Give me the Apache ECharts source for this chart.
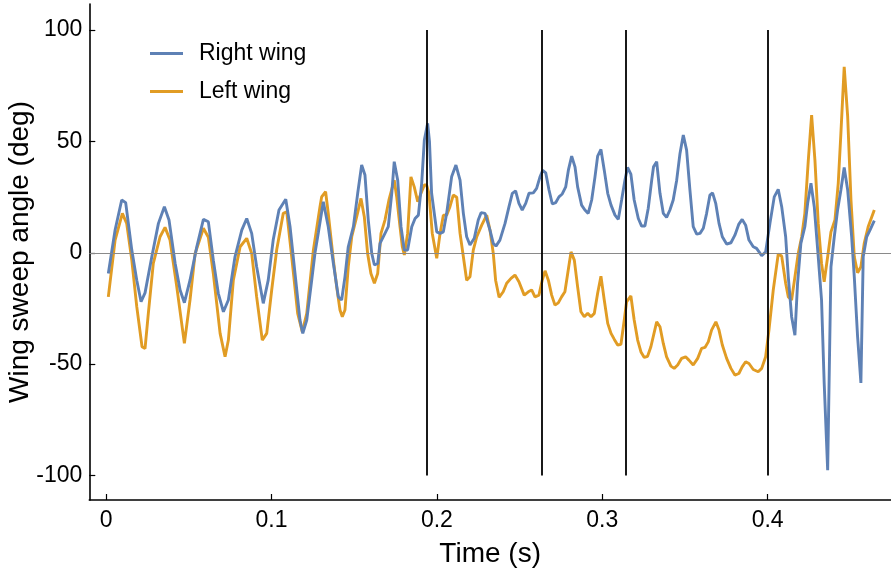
<!DOCTYPE html>
<html>
<head>
<meta charset="utf-8">
<script src="https://cdn.jsdelivr.net/npm/echarts@6.0.0/dist/echarts.min.js"></script>
<style>
html,body{margin:0;padding:0;background:#fff;}
#chart{width:891px;height:571px;}
</style>
</head>
<body>
<div id="chart"></div>
<script>
// ---- data ----
var rightT = [0.0013,0.0054,0.0094,0.0118,0.0155,0.0185,0.0211,0.0235,0.0276,0.0316,0.0352,0.0380,0.0417,0.0447,0.0473,0.0507,0.0548,0.0588,
0.0618,0.0648,0.0678,0.0709,0.0739,0.0779,0.0820,0.0850,0.0880,0.0910,0.0950,0.0980,0.1010,0.1045,0.1086,0.1112,0.1142,0.1172,0.1189,0.1213,0.1243,
0.1263,0.1283,0.1313,0.1343,0.1374,0.1404,0.1424,0.1444,0.1464,0.1495,0.1521,0.1545,0.1565,0.1585,0.1606,0.1622,0.1642,0.1656,0.1686,0.1706,0.1727,0.1742,0.1763,0.1783,0.1803,0.1823,0.1848,0.1868,0.1888,0.1908,0.1924,0.1944,
0.1955,0.1968,0.1999,0.2019,0.2039,0.2059,0.2089,0.2115,0.2140,0.2160,0.2180,0.2200,0.2226,0.2250,0.2267,0.2291,0.2321,0.2341,0.2357,0.2381,0.2412,0.2436,0.2456,0.2476,0.2496,0.2516,0.2537,0.2557,0.2583,0.2603,
0.2623,0.2640,0.2658,0.2678,0.2698,0.2718,0.2738,0.2758,0.2779,0.2795,0.2815,0.2835,0.2851,0.2875,0.2895,0.2915,0.2936,0.2956,0.2972,0.2992,0.3012,0.3033,0.3053,0.3077,0.3097,0.3117,0.3137,0.3153,0.3173,0.3193,0.3218,0.3238,0.3258,
0.3278,0.3299,0.3310,0.3329,0.3349,0.3369,0.3389,0.3409,0.3429,0.3450,0.3470,0.3490,0.3510,0.3530,0.3550,0.3571,0.3591,0.3611,0.3631,0.3651,0.3667,0.3686,0.3706,0.3726,0.3752,0.3778,0.3802,0.3826,0.3846,0.3867,0.3887,0.3913,0.3933,
0.3964,0.3988,0.4014,0.4040,0.4064,0.4085,0.4109,0.4125,0.4145,0.4165,0.4181,0.4201,0.4225,0.4242,0.4262,0.4282,0.4306,0.4326,0.4342,0.4363,0.4383,0.4403,0.4423,0.4443,0.4463,0.4484,0.4508,0.4524,0.4544,0.4564,0.4578,0.4599,0.4619,0.4645];
var rightV = [-9.3,10.2,23.7,22.5,1.2,-12.3,-22,-18,-1.8,13.2,20.7,14.7,-4.7,-16.7,-22.4,-12.3,2.7,15,
13.9,-3.3,-18.2,-26.5,-21.2,-1.8,10.2,15.4,8.7,-6.3,-22.7,-12.3,5.7,19.2,24,11.7,-9.3,-30.2,-36.2,-30.2,-12.3,
0,9,22.9,11.7,-4.8,-19.8,-21.2,-10.8,2.7,11.7,26.7,39.4,34.9,14.7,-0.3,-5.5,-4.8,4.2,8.7,11.7,26.7,40.9,32.6,11.7,1.2,1.2,11.7,15.4,16.9,31.2,50.6,58.1,
50,26.7,9.4,8.7,9.4,17.7,34.1,39.4,32.6,17.7,7.2,3.5,6.5,14.7,18,17.7,10.2,4.2,3,5.7,13.2,20.7,26.7,27.8,22.2,19.2,22.2,26.7,26.9,28.9,
34,37,35.9,28.2,21.9,22.5,25.1,26.4,29.6,37.1,43.4,38.6,29.6,21.4,19.2,17.7,23.7,34.1,43.4,46.4,37.1,26.7,21.4,16.9,15,23.7,32.6,38.3,35.3,23.7,15.4,12,12,
20,32.6,38.6,40.9,26.7,17.7,15.9,19.2,23.7,32.6,44.6,52.9,46.1,28.2,11.7,8.4,8.7,11,17.7,25.9,26.9,22.2,13.2,7.2,3.9,4.5,7.9,12.9,15,12.4,5.7,2.7,2,
-1.3,0.4,13.2,25.1,28.5,20.7,7.2,-10.8,-28.7,-37,-13.7,4.2,11.7,22.2,31.2,20.7,-1.8,-21.2,-58.6,-97.6,-6.3,7.2,19.2,28.2,38.3,28.2,7.2,-10.8,-37.7,-58.4,-1.8,7.2,10.2,14.4];

var leftT = [0.0013,0.0054,0.0098,0.0124,0.0155,0.0185,0.0217,0.0235,0.0255,0.0285,0.0326,0.0356,0.0386,0.0427,0.0473,0.0507,0.0538,0.0588,
0.0618,0.0648,0.0689,0.0719,0.0739,0.0769,0.0810,0.0850,0.0880,0.0910,0.0944,0.0971,0.1001,0.1031,0.1071,0.1092,0.1122,0.1158,0.1186,0.1213,0.1253,
0.1293,0.1303,0.1327,0.1343,0.1374,0.1394,0.1414,0.1428,0.1444,0.1464,0.1485,0.1515,0.1541,0.1561,0.1581,0.1601,0.1622,0.1642,0.1662,0.1686,0.1710,0.1742,0.1757,0.1777,0.1791,0.1803,0.1823,0.1843,0.1863,0.1884,0.1904,0.1924,
0.1938,0.1952,0.1972,0.1999,0.2019,0.2039,0.2059,0.2079,0.2099,0.2120,0.2140,0.2160,0.2180,0.2200,0.2220,0.2241,0.2271,0.2301,0.2321,0.2341,0.2355,0.2376,0.2401,0.2422,0.2448,0.2472,0.2496,0.2528,0.2553,0.2573,0.2593,
0.2617,0.2637,0.2654,0.2674,0.2694,0.2714,0.2734,0.2754,0.2774,0.2791,0.2811,0.2831,0.2851,0.2871,0.2891,0.2912,0.2932,0.2952,0.2972,0.2992,0.3012,0.3033,0.3053,0.3073,0.3093,0.3113,0.3133,0.3147,0.3173,0.3193,0.3214,0.3234,0.3254,0.3274,
0.3294,0.3329,0.3349,0.3369,0.3389,0.3415,0.3435,0.3456,0.3480,0.3504,0.3524,0.3550,0.3577,0.3601,0.3621,0.3641,0.3661,0.3687,0.3706,0.3726,0.3752,0.3778,0.3802,0.3826,0.3846,0.3867,0.3887,0.3913,0.3943,
0.3964,0.3988,0.4008,0.4034,0.4064,0.4085,0.4109,0.4125,0.4145,0.4165,0.4185,0.4206,0.4225,0.4246,0.4266,0.4286,0.4306,0.4326,0.4342,0.4363,0.4383,0.4407,0.4427,0.4443,0.4463,0.4484,0.4504,0.4524,0.4544,0.4564,0.4584,0.4608,0.4645];
var leftV = [-19.8,5.7,17.7,13.2,-3.3,-24.2,-42.2,-43,-27.2,-4.8,7.2,11.4,5.7,-15.3,-40.7,-21.2,-0.3,11,
7,-9.3,-36.2,-46.7,-39.2,-12.3,2.7,6.5,-0.3,-19.8,-39.2,-36.2,-16.7,1.2,17.7,18.4,-1.8,-27.2,-35.5,-27.2,1.2,
20.7,25.1,27.4,17.7,-3.3,-15.3,-25.7,-28.7,-25.7,-6.3,7.2,16.2,24.4,16.2,-0.3,-9.3,-13.7,-9.3,8.7,14.7,23.7,32.6,25.1,11.7,2.7,-1,8.7,34.1,29.6,22.9,26.7,30.4,
30.4,26.7,8.7,-2.5,8.7,16.9,16.9,20.7,25.9,24.9,8.7,-1.8,-12.3,-10.8,1.2,7.2,12.4,16.9,10.2,-0.3,-12.3,-20,-17.5,-13.7,-11.5,-10,-13,-19,-17.5,-16.7,-19.8,
-19,-12.3,-8.1,-12.3,-19,-23.5,-22.5,-19.8,-17.5,-9.3,0.4,-3.3,-15.3,-26.5,-28.7,-27.2,-28.7,-27.2,-18.2,-10.5,-21.2,-31.7,-36.2,-38.9,-41.4,-41.1,-30.2,-22,-19.4,-30.2,-39.2,-44.5,-47,-46.5,
-42.2,-31,-33.2,-40.7,-46.7,-50.9,-51.9,-50.4,-47.4,-46.7,-48.2,-50.4,-47.4,-42.9,-42.5,-40,-34.7,-31,-34.7,-41.4,-47.4,-51.9,-54.9,-54.2,-51.2,-48.9,-49.7,-52.4,-53.4,
-51.9,-46.7,-34.7,-16.7,-0.6,-1.5,-13.7,-19.8,-21.2,-10.8,-0.3,7.2,17.7,41.6,61.8,41.6,13.2,-4.8,-13,-1.8,9.4,14.7,31.2,53.6,83.5,61.1,23.7,-1.8,-9,-6.3,4.2,11.7,19.2];

var seriesNames = ['Right wing', 'Left wing'];
var markerTimes = [0.1936, 0.2637, 0.3139, 0.4];
var markerSpan = [-100, 100];
var xTicks = [0, 0.1, 0.2, 0.3, 0.4];
var yTicks = [-100, -50, 0, 50, 100];

function zip(t, v) { return t.map(function (x, i) { return [x, v[i]]; }); }

var FONT = '"Liberation Sans", Arial, Helvetica, sans-serif';
var BLUE = '#5E81B5', ORANGE = '#E19C24';

function legendFor(name, top) {
  return {data: [name], left: 150, top: top, padding: 0, orient: 'vertical', icon: 'rect',
    itemWidth: 33, itemHeight: 3, itemGap: 0,
    textStyle: {fontFamily: FONT, fontSize: 23, color: '#000', lineHeight: 24, padding: [0, 0, 0, 11]}};
}

var chart = echarts.init(document.getElementById('chart'), null, {renderer: 'canvas'});
chart.setOption({
  animation: false,
  backgroundColor: '#fff',
  grid: {left: 89.3, right: 0, top: 4, bottom: 71, containLabel: false, outerBoundsMode: 'none'},
  legend: [legendFor(seriesNames[0], 41.5), legendFor(seriesNames[1], 79.5)],
  xAxis: {
    type: 'value', min: -0.0102, max: 0.4746,
    name: 'Time (s)', nameLocation: 'middle', nameGap: 40, nameMoveOverlap: false,
    nameTextStyle: {fontFamily: FONT, fontSize: 28, color: '#000'},
    axisLine: {show: true, onZero: false, lineStyle: {color: '#000', width: 1.6}},
    axisTick: {show: true, inside: true, length: 6, customValues: xTicks, lineStyle: {color: '#000', width: 1.2}},
    axisLabel: {customValues: xTicks, margin: 9, fontFamily: FONT, fontSize: 23, color: '#000',
      formatter: function (v) { return String(Math.round(v * 10) / 10); }},
    splitLine: {show: false}
  },
  yAxis: {
    type: 'value', min: -111.0, max: 111.7,
    name: 'Wing sweep angle (deg)', nameLocation: 'middle', nameGap: 55, nameRotate: 90, nameMoveOverlap: false,
    nameTextStyle: {fontFamily: FONT, fontSize: 28, color: '#000'},
    axisLine: {show: true, onZero: false, lineStyle: {color: '#000', width: 1.6}},
    axisTick: {show: true, inside: true, length: 6, customValues: yTicks, lineStyle: {color: '#000', width: 1.2}},
    axisLabel: {customValues: yTicks, margin: 7, fontFamily: FONT, fontSize: 23, color: '#000',
      formatter: function (v) { return String(v); }},
    splitLine: {show: false}
  },
  series: [
    {
      name: 'zero', type: 'line', data: [], z: 1, silent: true,
      markLine: {silent: true, symbol: 'none', label: {show: false},
        lineStyle: {color: '#8a8a8a', width: 1.2, type: 'solid'},
        data: [{yAxis: 0}]}
    },
    {
      name: seriesNames[0], type: 'line', data: zip(rightT, rightV), showSymbol: false, symbol: 'none',
      color: BLUE, lineStyle: {color: BLUE, width: 2.9}, z: 3
    },
    {
      name: seriesNames[1], type: 'line', data: zip(leftT, leftV), showSymbol: false, symbol: 'none',
      color: ORANGE, lineStyle: {color: ORANGE, width: 2.9}, z: 2
    },
    {
      name: 'markers', type: 'line', data: [], z: 4, silent: true,
      markLine: {silent: true, symbol: 'none', label: {show: false},
        lineStyle: {color: '#000', width: 1.8, type: 'solid'},
        data: markerTimes.map(function (t) { return [{coord: [t, markerSpan[0]]}, {coord: [t, markerSpan[1]]}]; })}
    }
  ]
});
</script>
</body>
</html>
